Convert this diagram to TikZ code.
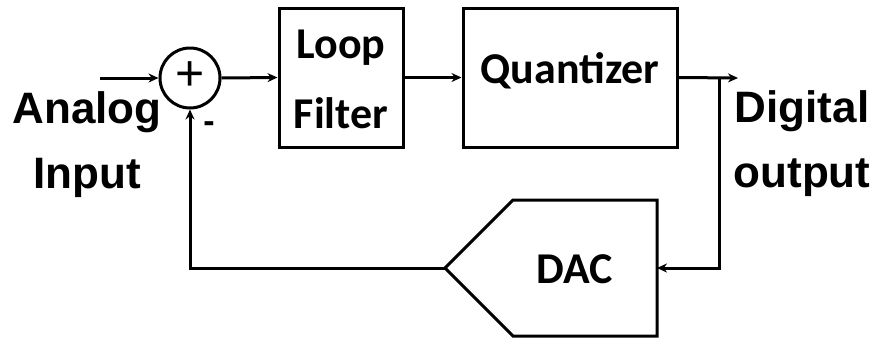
\documentclass[tikz,border=0pt]{standalone}
\usepackage{fontspec}
\setmainfont{Liberation Sans}
\newfontfamily\boxfont{Carlito}
\usetikzlibrary{arrows.meta}
\begin{document}
\begin{tikzpicture}[x=1pt,y=-1pt,
  wire/.style={line width=3pt,-{Stealth[length=10pt,width=9pt]}},
  plain/.style={line width=3pt},
  blk/.style={draw,line width=3pt,rectangle,inner sep=0pt},
  boxtxt/.style={font=\boxfont\bfseries\fontsize{44}{52}\selectfont,inner sep=0pt},
  lbl/.style={font=\bfseries\fontsize{44}{52}\selectfont,inner sep=0pt}]
\useasboundingbox (0,0) rectangle (876,341);
\fill[white] (0,0) rectangle (876,341);
% summing junction
\node[draw,circle,line width=3pt,minimum size=60pt,inner sep=0pt] (sum) at (190,78) {};
\node[font=\fontsize{50}{50}\selectfont,inner sep=0pt] (plus) at (190,76) {+};
\node[font=\bfseries\fontsize{34}{34}\selectfont,inner sep=0pt] (minus) at (209,127) {-};
\coordinate (in) at (100,78);
% blocks
\node[blk,minimum width=124pt,minimum height=139pt] (lf) at (341,77.5) {};
\node[boxtxt,anchor=base] (lftxt1) at (341,58) {Loop};
\node[boxtxt,anchor=base] (lftxt2) at (341,128) {Filter};
\node[blk,minimum width=214pt,minimum height=139pt] (q) at (570,77.5) {};
\node[boxtxt,anchor=base] (qtxt) at (570,83) {Quantizer};
% DAC
\coordinate (dtip) at (445,268);
\coordinate (dtl) at (513,200);
\coordinate (dtr) at (657,200);
\coordinate (dbr) at (657,336);
\coordinate (dbl) at (513,336);
\coordinate (dr) at (657,268);
\draw[plain,line join=miter] (dtip) -- (dtl) -- (dtr) -- (dbr) -- (dbl) -- cycle;
\node[boxtxt,anchor=base] (dac) at (575,283) {DAC};
% connections
\coordinate (out) at (738,78);
\coordinate (br) at (719,78);
\coordinate (brd) at (719,268);
\coordinate (fbc) at (190,268);
\draw[wire] (in) -- (sum.west);
\draw[wire] (sum.east) -- (lf.west);
\draw[wire] (lf.east) -- (q.west);
\draw[wire] (q.east) -- (out);
\draw[wire,line join=miter] (br) -- (brd) -- (dr);
\draw[wire,line join=miter] (dtip) -- (fbc) -- (sum.south);
% labels
\node[lbl,anchor=base] (ain) at (87,123) {Analog};
\node[lbl,anchor=base] (ain2) at (87,188) {Input};
\node[lbl,anchor=base] (dout) at (802,122) {Digital};
\node[lbl,anchor=base] (dout2) at (802,187) {output};
\end{tikzpicture}
\end{document}
